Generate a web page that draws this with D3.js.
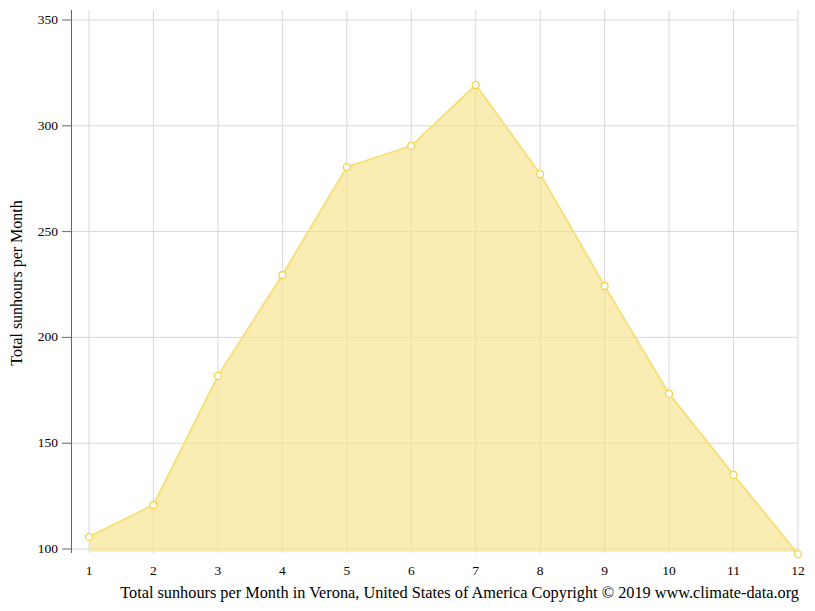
<!DOCTYPE html>
<html><head><meta charset="utf-8">
<script src="https://cdn.jsdelivr.net/npm/d3@7/dist/d3.min.js"></script>
<style>body{margin:0;background:#fff}text{font-family:"Liberation Serif",serif}</style>
</head><body><svg id="c" width="815" height="611"></svg>
<script>
const months=[1,2,3,4,5,6,7,8,9,10,11,12];
const sunhours=[105.7,120.8,181.8,229.5,280.5,290.5,319.3,277.2,224.3,173.3,135,97.6];
const yTicks=[100,150,200,250,300,350];
const svg=d3.select("#c");
const x=d3.scaleLinear().domain([1,12]).range([89,798]);
const y=d3.scaleLinear().domain([100,350]).range([549,20]);
const g=svg.append("g");
g.selectAll(".vg").data(months).join("line").attr("x1",d=>x(d)).attr("x2",d=>x(d)).attr("y1",10).attr("y2",553).attr("stroke","#d8d8d8");
g.selectAll(".hg").data(yTicks).join("line").attr("x1",72).attr("x2",798).attr("y1",d=>y(d)).attr("y2",d=>y(d)).attr("stroke","#d8d8d8");
const bottom=552;
g.append("path").datum(sunhours).attr("d",d3.area().x((d,i)=>x(months[i])).y0(bottom).y1(d=>y(d))).attr("fill","#f7e48a").attr("fill-opacity",0.65);
g.append("path").datum(sunhours).attr("d",d3.line().x((d,i)=>x(months[i])).y(d=>y(d))).attr("fill","none").attr("stroke","#f6df7c").attr("stroke-width",2);
g.selectAll("circle").data(sunhours).join("circle").attr("cx",(d,i)=>x(months[i])).attr("cy",d=>y(d)).attr("r",3.5).attr("fill","#fff").attr("stroke","#f3d34a").attr("stroke-width",1.3);
g.append("line").attr("x1",71.5).attr("x2",71.5).attr("y1",10).attr("y2",553).attr("stroke","#666");
g.selectAll(".yt").data(yTicks).join("line").attr("x1",62).attr("x2",71).attr("y1",d=>y(d)).attr("y2",d=>y(d)).attr("stroke","#666");
g.selectAll(".yl").data(yTicks).join("text").attr("x",58).attr("y",d=>y(d)+4).attr("text-anchor","end").attr("font-size",13.5).text(d=>d);
g.selectAll(".xl").data(months).join("text").attr("x",d=>x(d)).attr("y",575).attr("text-anchor","middle").attr("font-size",13.5).text(d=>d);
svg.append("text").attr("transform","translate(22,283) rotate(-90)").attr("text-anchor","middle").attr("font-size",16).text("Total sunhours per Month");
svg.append("text").attr("x",799).attr("y",598).attr("text-anchor","end").attr("font-size",16.3).text("Total sunhours per Month in Verona, United States of America Copyright © 2019 www.climate-data.org");
</script></body></html>
